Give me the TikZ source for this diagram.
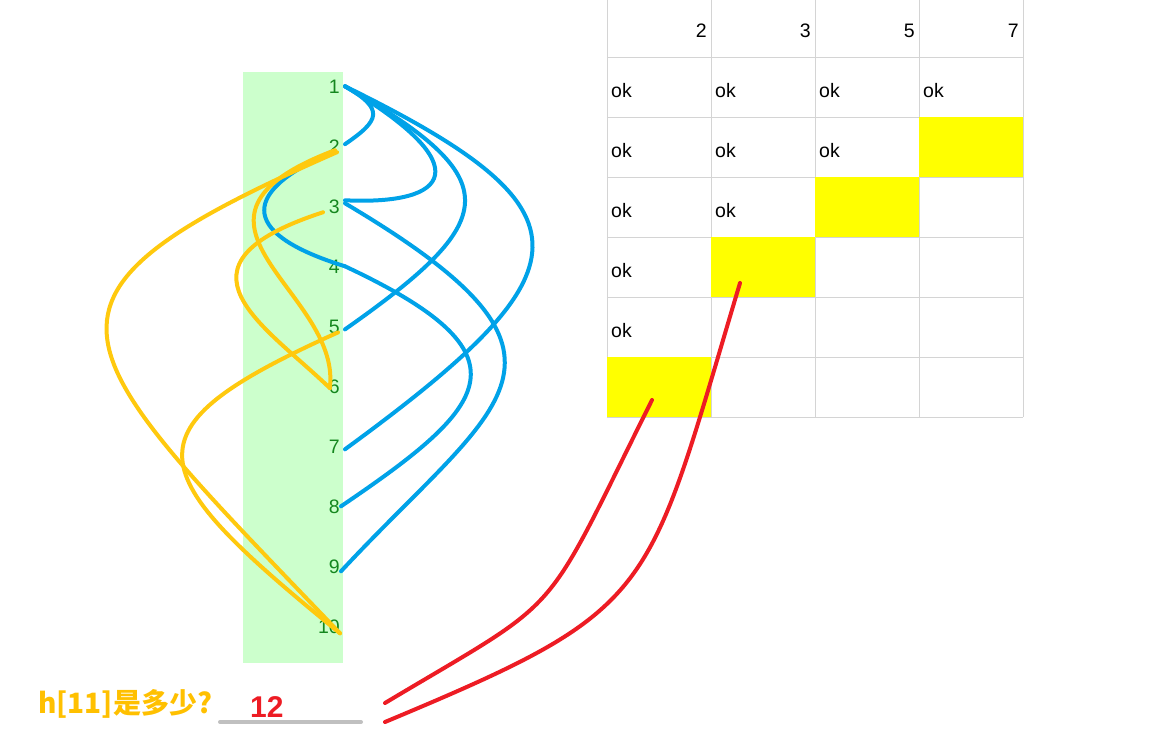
\documentclass[tikz,border=0pt]{standalone}
\usepackage{fontspec}
\setmainfont{Liberation Sans}
\newfontfamily\cjk{Noto Sans CJK SC}
\usetikzlibrary{positioning}
\definecolor{cblue}{RGB}{  0,162,232}
\definecolor{cgold}{RGB}{255,201, 14}
\definecolor{cred} {RGB}{237, 28, 36}
\definecolor{lgrn} {RGB}{204,255,204}
\definecolor{dgrn} {RGB}{ 20,135, 30}
\definecolor{cgrid}{RGB}{212,212,212}
\definecolor{cyel} {RGB}{255,255,  0}
\definecolor{qgold}{RGB}{255,192,  0}
\definecolor{ugray}{RGB}{192,192,192}
\tikzset{
  % Index numbers in the green strip
  NUM/.style={anchor=base east,inner xsep=5pt,inner ysep=0pt,text=dgrn,
              font=\fontsize{19.5}{22}\selectfont},
  % Table header and cell text
  HD/.style={anchor=base east,inner sep=0pt,font=\fontsize{19.5}{22}\selectfont},
  OK/.style={anchor=base west,inner sep=0pt,font=\fontsize{19.5}{22}\selectfont},
  % Yellow table cell
  YC/.style={rectangle,fill=cyel,minimum width=104pt,minimum height=60pt,
             inner sep=0pt},
  % Curves
  BC/.style={line width=4pt,color=cblue,line cap=round},
  GC/.style={line width=4pt,color=cgold,line cap=round},
  RC/.style={line width=4pt,color=cred,line cap=round},
}
\begin{document}
\begin{tikzpicture}[x=1pt,y=-1pt]
  \useasboundingbox (0,0) rectangle (1175,737);
  % Green strip
  \fill[lgrn] (243,72) rectangle (343,663);
  \foreach \i in {1,...,10}
    \node[NUM] (n\i) at (345,{33+60*\i}) {\i};
  % Table grid
  \foreach \c in {0,...,4}
    \draw[cgrid,line width=1pt] ({607+104*\c},0) -- ({607+104*\c},417);
  \foreach \r in {0,...,6}
    \draw[cgrid,line width=1pt] (607,{57+60*\r}) -- (1023,{57+60*\r});
  \node[YC] (c24) at (971,147) {};
  \node[YC] (c33) at (867,207) {};
  \node[YC] (c42) at (763,267) {};
  \node[YC] (c61) at (659,387) {};
  \foreach \c/\v in {1/2,2/3,3/5,4/7}
    \node[HD] (h\v) at ({603+104*\c},37) {\v};
  \foreach \r/\c in {1/1,1/2,1/3,1/4,2/1,2/2,2/3,3/1,3/2,4/1,5/1}
    \node[OK] (ok\r\c) at ({507+104*\c},{37+60*\r}) {ok};
  % Blue curves
  \draw[BC] (n1.east) .. controls +(40,23) and +(35,-24) .. ([yshift=2pt]n2.east);
  \draw[BC] (n1.east) .. controls +(135,80) and +(105,5) .. ([yshift=6pt]n3.east);
  \draw[BC] (n1.east) .. controls +(165,94) and +(155,-109) .. ([yshift=-3pt]n5.east);
  \draw[BC] (n1.east) .. controls +(255,125) and +(245,-179) .. ([yshift=-3pt]n7.east);
  \draw[BC] ([shift={(-14pt,-6pt)}]n2.east) .. controls +(-96,43) and +(-100,-31) .. (n4.east);
  \draw[BC] ([yshift=3pt]n3.east) .. controls +(265,157) and +(159,-171) .. ([shift={(-4pt,-5pt)}]n9.east);
  \draw[BC] (n4.east) .. controls +(190,89) and +(149,-101) .. ([xshift=-4pt]n8.east);
  % Gold curves
  \draw[GC] ([shift={(-10pt,-4pt)}]n2.east) .. controls +(-185,70) and +(10,-96) .. ([xshift=-15pt]n6.east);
  \draw[GC] ([shift={(-22pt,-6pt)}]n3.east) .. controls +(-163,53) and +(-65,-63) .. ([shift={(-15pt,-2pt)}]n6.east);
  \draw[GC] ([shift={(-8pt,-6pt)}]n2.east) .. controls +(-337,148) and +(-280,-293) .. ([shift={(-5pt,-7pt)}]n10.east);
  \draw[GC] ([shift={(-7pt,-6pt)}]n5.east) .. controls +(-218,98) and +(-200,-163) .. ([shift={(-5pt,-7pt)}]n10.east);
  % Question and answer
  \node[anchor=base west,inner sep=0pt,text=qgold,
        font=\cjk\bfseries\fontsize{28}{32}\selectfont] (q) at (38,713) {h[11]是多少?};
  \node[anchor=base west,inner sep=0pt,text=cred,
        font=\bfseries\fontsize{30}{34}\selectfont] (ans) at (250,717) {12};
  \draw[ugray,line width=4pt,line cap=round] (220,722) -- (361,722);
  \coordinate (r1) at (385,703);
  \coordinate (r2) at (385,722);
  % Red curves
  \draw[RC] (r1) .. controls +(184,-110) and +(-113,226) .. ([shift={(-7pt,-13pt)}]c61.center);
  \draw[RC] (r2) .. controls +(275,-115) and +(-95,317) .. ([shift={(-23pt,-16pt)}]c42.center);
\end{tikzpicture}
\end{document}
